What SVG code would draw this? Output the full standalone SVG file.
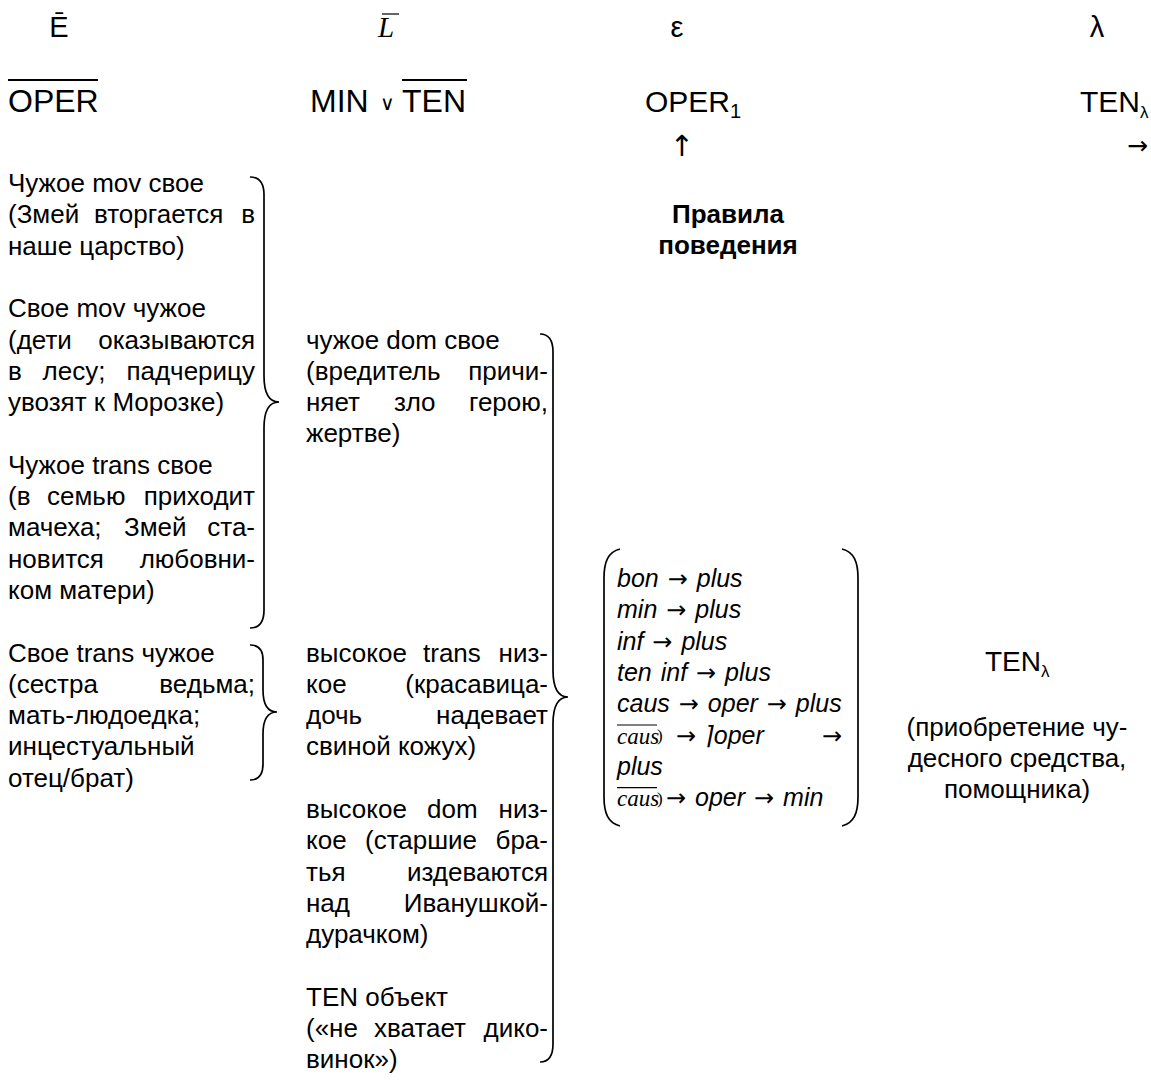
<svg xmlns="http://www.w3.org/2000/svg" width="1151" height="1084" viewBox="0 0 1151 1084">
  <style>
    text { font-family: "Liberation Sans", Arial, "DejaVu Sans", sans-serif; font-size: 26px; fill: #000; }
    .h { font-size: 32px; }
    .sym { font-size: 29px; }
    .sub { font-size: 20px; }
    .b { font-weight: bold; }
    .i { font-style: italic; font-size: 25px; word-spacing: 2px; }
    .ser { font-family: "Liberation Serif", "Times New Roman", serif; font-style: italic; }
    .ar { font-family: "DejaVu Sans", sans-serif; font-style: normal; font-size: 24px; }
    .e { text-anchor: end; }
    .m { text-anchor: middle; }
    .bar { stroke: #000; stroke-width: 2; fill: none; }
    .thin { stroke: #000; stroke-width: 1.2; fill: none; }
    .brace { stroke: #000; stroke-width: 1.7; fill: none; }
  </style>

  <!-- column heads -->
  <g id="head-E">
    <text class="sym m" x="59" y="37">Ē</text>
    <text class="h" x="8" y="112">OPER</text>
    <line class="bar" x1="8" y1="80" x2="98" y2="80"/>
  </g>
  <g id="head-L">
    <text class="ser m" x="386" y="37" style="font-size:29px">L</text>
    <line class="thin" x1="382" y1="14" x2="399" y2="14"/>
    <text class="h" x="310" y="112">MIN</text>
    <text x="380" y="110" style="font-size:20px">∨</text>
    <text class="h" x="402" y="112">TEN</text>
    <line class="bar" x1="402" y1="80" x2="467" y2="80"/>
  </g>
  <g id="head-epsilon">
    <text class="sym m" x="677" y="37">ε</text>
    <text class="h" x="645" y="112" style="font-size:30px">OPER<tspan class="sub" dy="6">1</tspan></text>
    <text class="ar m" x="682" y="156" style="font-size:29px">↑</text>
  </g>
  <g id="head-lambda">
    <text class="sym m" x="1097" y="37">λ</text>
    <text class="h" x="1080" y="112" style="font-size:30px">TEN<tspan style="font-size:17px" dy="6">λ</tspan></text>
    <text class="ar e" x="1148" y="154" style="font-size:25px">→</text>
  </g>

  <!-- left column: spatial oppositions -->
  <g id="col-left">
    <text x="8" y="192">Чужое mov свое</text>
    <text x="8" y="223.3">(Змей</text><text x="94" y="223.3">вторгается</text><text class="e" x="255" y="223.3">в</text>
    <text x="8" y="254.6">наше царство)</text>

    <text x="8" y="317.2">Свое mov чужое</text>
    <text x="8" y="348.5">(дети</text><text class="e" x="255" y="348.5">оказываются</text>
    <text x="8" y="379.8">в</text><text x="42.5" y="379.8">лесу;</text><text class="e" x="255" y="379.8">падчерицу</text>
    <text x="8" y="411.1">увозят к Морозке)</text>

    <text x="8" y="473.7">Чужое trans свое</text>
    <text x="8" y="505">(в</text><text x="47" y="505">семью</text><text class="e" x="255" y="505">приходит</text>
    <text x="8" y="536.3">мачеха;</text><text x="124" y="536.3">Змей</text><text class="e" x="255" y="536.3">ста-</text>
    <text x="8" y="567.6">новится</text><text class="e" x="255" y="567.6">любовни-</text>
    <text x="8" y="598.9">ком матери)</text>

    <text x="8" y="661.5">Свое trans чужое</text>
    <text x="8" y="692.8">(сестра</text><text class="e" x="255" y="692.8">ведьма;</text>
    <text x="8" y="724.1">мать-людоедка;</text>
    <text x="8" y="755.4">инцестуальный</text>
    <text x="8" y="786.7">отец/брат)</text>
  </g>

  <!-- middle column: hierarchy oppositions -->
  <g id="col-middle">
    <text x="306" y="348.5">чужое dom свое</text>
    <text x="306" y="379.8">(вредитель</text><text class="e" x="548" y="379.8">причи-</text>
    <text x="306" y="411.1">няет</text><text x="394" y="411.1">зло</text><text class="e" x="548" y="411.1">герою,</text>
    <text x="306" y="442.4">жертве)</text>

    <text x="306" y="661.5">высокое</text><text x="423" y="661.5">trans</text><text class="e" x="548" y="661.5">низ-</text>
    <text x="306" y="692.8">кое</text><text class="e" x="548" y="692.8">(красавица-</text>
    <text x="306" y="724.1">дочь</text><text class="e" x="548" y="724.1">надевает</text>
    <text x="306" y="755.4">свиной кожух)</text>

    <text x="306" y="818">высокое</text><text x="427" y="818">dom</text><text class="e" x="548" y="818">низ-</text>
    <text x="306" y="849.3">кое</text><text x="365" y="849.3">(старшие</text><text class="e" x="548" y="849.3">бра-</text>
    <text x="306" y="880.6">тья</text><text class="e" x="548" y="880.6">издеваются</text>
    <text x="306" y="911.9">над</text><text class="e" x="548" y="911.9">Иванушкой-</text>
    <text x="306" y="943.2">дурачком)</text>

    <text x="306" y="1005.8">TEN объект</text>
    <text x="306" y="1037.1">(«не</text><text x="374" y="1037.1">хватает</text><text class="e" x="548" y="1037.1">дико-</text>
    <text x="306" y="1068.4">винок»)</text>
  </g>

  <!-- rules of behaviour -->
  <g id="rules-title">
    <text class="b m" x="728" y="223">Правила</text>
    <text class="b m" x="728" y="254">поведения</text>
  </g>
  <g id="rules">
    <text class="i" x="617" y="587">bon <tspan class="ar">→</tspan> plus</text>
    <text class="i" x="617" y="618.3">min <tspan class="ar">→</tspan> plus</text>
    <text class="i" x="617" y="649.6">inf <tspan class="ar">→</tspan> plus</text>
    <text class="i" x="617" y="680.9">ten inf <tspan class="ar">→</tspan> plus</text>
    <text class="i" x="617" y="712.2">caus <tspan class="ar">→</tspan> oper <tspan class="ar">→</tspan> plus</text>
    <text class="ser" x="617" y="743.5" style="font-size:23px">caus</text>
    <line class="thin" x1="617" y1="725" x2="657" y2="725"/>
    <text class="ser" x="657" y="741" style="font-size:17px;font-style:normal">)</text>
    <text class="ar" x="676" y="743.5">→</text>
    <text class="i" x="704" y="743.5">⌉oper</text>
    <text class="ar e" x="842" y="743.5">→</text>
    <text class="i" x="617" y="774.8">plus</text>
    <text class="ser" x="617" y="806.1" style="font-size:23px">caus</text>
    <line class="thin" x1="617" y1="787.6" x2="657" y2="787.6"/>
    <text class="ser" x="657" y="803.6" style="font-size:17px;font-style:normal">)</text>
    <text class="i" x="666" y="806.1"><tspan class="ar">→</tspan> oper <tspan class="ar">→</tspan> min</text>
  </g>

  <!-- result -->
  <g id="result">
    <text x="985" y="671" style="font-size:28px">TEN<tspan style="font-size:17px" dy="6">λ</tspan></text>
    <text class="m" x="1017" y="736">(приобретение чу-</text>
    <text class="m" x="1017" y="767">десного средства,</text>
    <text class="m" x="1017" y="798">помощника)</text>
  </g>

  <!-- braces and brackets -->
  <g id="connectors">
    <path class="brace" d="M250 177 Q264 177 264 195 L264 376 Q264 402 279 402 Q264 402 264 428 L264 610 Q264 628 250 628"/>
    <path class="brace" d="M250 645 Q263 645 263 660 L263 690 Q263 712 277 712 Q263 712 263 734 L263 764 Q263 780 250 780"/>
    <path class="brace" d="M540 334 Q553 334 553 352 L553 670 Q553 697 568 697 Q553 697 553 724 L553 1044 Q553 1062 540 1062"/>
    <path class="brace" d="M620 549 C608 552 604 562 604 578 L604 797 C604 813 608 823 620 826"/>
    <path class="brace" d="M842 549 C854 552 858 562 858 578 L858 797 C858 813 854 823 842 826"/>
  </g>
</svg>
